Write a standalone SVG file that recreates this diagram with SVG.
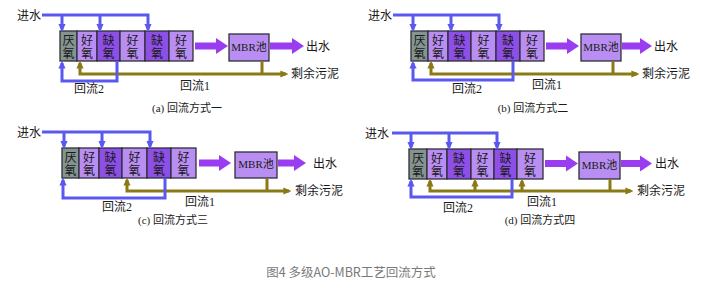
<svg xmlns="http://www.w3.org/2000/svg" width="701" height="292" viewBox="0 0 701 292">
<style>
text{font-family:"Liberation Serif","Noto Sans CJK SC",serif;fill:#1a1a1a;font-size:12px}
.c{text-anchor:middle}
.tank{stroke:#2e2e3a;stroke-width:1.3}
.g{fill:#84948f}
.l{fill:#b98ef2}
.d{fill:#8d4fe6}
.mbr{fill:#b98ef2;stroke:#2e2e3a;stroke-width:1.3}
.mt{font-size:11px;text-anchor:middle}
.bl{fill:none;stroke:#5a58ee;stroke-width:3}
.ol{fill:none;stroke:#8a7a16;stroke-width:3}
.big{fill:#9a3cf0}
.cap{font-size:11px;text-anchor:middle}
.fig{font-family:"Noto Sans CJK SC","Liberation Sans",sans-serif;font-size:12.5px;fill:#7a7a7a;text-anchor:middle}
</style>
<defs>
<marker id="mb" viewBox="0 0 10 10" refX="7" refY="5" markerWidth="8" markerHeight="8" markerUnits="userSpaceOnUse" orient="auto"><path d="M0,0.5 L10,5 L0,9.5 z" fill="#5a58ee"/></marker>
<marker id="mo" viewBox="0 0 10 10" refX="7" refY="5" markerWidth="8" markerHeight="8" markerUnits="userSpaceOnUse" orient="auto"><path d="M0,0.5 L10,5 L0,9.5 z" fill="#8a7a16"/></marker>
</defs>
<rect width="701" height="292" fill="#ffffff"/>

<!-- Panel (a) -->
<g id="panel-a">
<g id="a-nodes">
<g id="a-in"><text x="17" y="19.5">进水</text></g>
<g id="a-t1"><rect class="tank g" x="60" y="31" width="17" height="30"/><text class="c" x="68.5" y="45">厌</text><text class="c" x="68.5" y="58">氧</text></g>
<g id="a-t2"><rect class="tank l" x="77" y="31" width="20" height="30"/><text class="c" x="87" y="45">好</text><text class="c" x="87" y="58">氧</text></g>
<g id="a-t3"><rect class="tank d" x="97" y="31" width="23" height="30"/><text class="c" x="108.5" y="45">缺</text><text class="c" x="108.5" y="58">氧</text></g>
<g id="a-t4"><rect class="tank l" x="120" y="31" width="25" height="30"/><text class="c" x="132.5" y="45">好</text><text class="c" x="132.5" y="58">氧</text></g>
<g id="a-t5"><rect class="tank d" x="145" y="31" width="24" height="30"/><text class="c" x="157" y="45">缺</text><text class="c" x="157" y="58">氧</text></g>
<g id="a-t6"><rect class="tank l" x="169" y="31" width="24" height="30"/><text class="c" x="181" y="45">好</text><text class="c" x="181" y="58">氧</text></g>
<g id="a-mbr"><rect class="mbr" x="229" y="34" width="40" height="27"/><text class="mt" x="249" y="51">MBR池</text></g>
<g id="a-out"><text x="306" y="51">出水</text></g>
<g id="a-sl"><text x="291" y="78">剩余污泥</text></g>
</g>
<g id="a-connectors">
<path class="bl" d="M42,15 H148 V29.5" marker-end="url(#mb)"/>
<path class="bl" d="M62,15 V29.5" marker-end="url(#mb)"/>
<path class="bl" d="M100,15 V29.5" marker-end="url(#mb)"/>
<path class="big" d="M195,42.5 H216 V38 L228,46 L216,54 V49.5 H195 Z"/>
<path class="big" d="M270,42.5 H292 V38 L304,46 L292,54 V49.5 H270 Z"/>
<path class="ol" d="M262,61 V74"/>
<path class="ol" d="M262,74 H286" marker-end="url(#mo)"/>
<path class="ol" d="M262,74 H80 V63" marker-end="url(#mo)"/>
<path class="bl" d="M117,61 V81 H62 V63" marker-end="url(#mb)"/>
</g>
<text x="74" y="93">回流2</text>
<text x="180" y="90">回流1</text>
<text class="cap" x="187" y="112">(a) 回流方式一</text>
</g>

<!-- Panel (b) -->
<g id="panel-b" transform="translate(351,0)">
<g id="b-nodes">
<g id="b-in"><text x="17" y="19.5">进水</text></g>
<g id="b-t1"><rect class="tank g" x="60" y="31" width="17" height="30"/><text class="c" x="68.5" y="45">厌</text><text class="c" x="68.5" y="58">氧</text></g>
<g id="b-t2"><rect class="tank l" x="77" y="31" width="20" height="30"/><text class="c" x="87" y="45">好</text><text class="c" x="87" y="58">氧</text></g>
<g id="b-t3"><rect class="tank d" x="97" y="31" width="23" height="30"/><text class="c" x="108.5" y="45">缺</text><text class="c" x="108.5" y="58">氧</text></g>
<g id="b-t4"><rect class="tank l" x="120" y="31" width="25" height="30"/><text class="c" x="132.5" y="45">好</text><text class="c" x="132.5" y="58">氧</text></g>
<g id="b-t5"><rect class="tank d" x="145" y="31" width="24" height="30"/><text class="c" x="157" y="45">缺</text><text class="c" x="157" y="58">氧</text></g>
<g id="b-t6"><rect class="tank l" x="169" y="31" width="24" height="30"/><text class="c" x="181" y="45">好</text><text class="c" x="181" y="58">氧</text></g>
<g id="b-mbr"><rect class="mbr" x="230" y="34" width="40" height="27"/><text class="mt" x="250" y="51">MBR池</text></g>
<g id="b-out"><text x="303" y="51">出水</text></g>
<g id="b-sl"><text x="291" y="78">剩余污泥</text></g>
</g>
<g id="b-connectors">
<path class="bl" d="M42,15 H148 V29.5" marker-end="url(#mb)"/>
<path class="bl" d="M62,15 V29.5" marker-end="url(#mb)"/>
<path class="bl" d="M100,15 V29.5" marker-end="url(#mb)"/>
<path class="big" d="M195,42.5 H216 V38 L228,46 L216,54 V49.5 H195 Z"/>
<path class="big" d="M271,42.5 H289 V38 L301,46 L289,54 V49.5 H271 Z"/>
<path class="ol" d="M262,61 V74"/>
<path class="ol" d="M262,74 H286" marker-end="url(#mo)"/>
<path class="ol" d="M262,74 H80 V63" marker-end="url(#mo)"/>
<path class="bl" d="M162,61 V80 H62 V63" marker-end="url(#mb)"/>
</g>
<text x="101" y="93">回流2</text>
<text x="181" y="89">回流1</text>
<text class="cap" x="182" y="112">(b) 回流方式二</text>
</g>

<!-- Panel (c) -->
<g id="panel-c" transform="translate(0,117)">
<g id="c-nodes">
<g id="c-in"><text x="17" y="19.5">进水</text></g>
<g id="c-t1"><rect class="tank g" x="62" y="31" width="17" height="30"/><text class="c" x="70.5" y="45">厌</text><text class="c" x="70.5" y="58">氧</text></g>
<g id="c-t2"><rect class="tank l" x="79" y="31" width="20" height="30"/><text class="c" x="89" y="45">好</text><text class="c" x="89" y="58">氧</text></g>
<g id="c-t3"><rect class="tank d" x="99" y="31" width="23" height="30"/><text class="c" x="110.5" y="45">缺</text><text class="c" x="110.5" y="58">氧</text></g>
<g id="c-t4"><rect class="tank l" x="122" y="31" width="25" height="30"/><text class="c" x="134.5" y="45">好</text><text class="c" x="134.5" y="58">氧</text></g>
<g id="c-t5"><rect class="tank d" x="147" y="31" width="24" height="30"/><text class="c" x="159" y="45">缺</text><text class="c" x="159" y="58">氧</text></g>
<g id="c-t6"><rect class="tank l" x="171" y="31" width="25" height="30"/><text class="c" x="183.5" y="45">好</text><text class="c" x="183.5" y="58">氧</text></g>
<g id="c-mbr"><rect class="mbr" x="235" y="35" width="42" height="26"/><text class="mt" x="256" y="51">MBR池</text></g>
<g id="c-out"><text x="313" y="51">出水</text></g>
<g id="c-sl"><text x="295" y="78">剩余污泥</text></g>
</g>
<g id="c-connectors">
<path class="bl" d="M42,15 H150 V29.5" marker-end="url(#mb)"/>
<path class="bl" d="M64,15 V29.5" marker-end="url(#mb)"/>
<path class="bl" d="M102,15 V29.5" marker-end="url(#mb)"/>
<path class="big" d="M199,42.5 H219 V38 L231,46 L219,54 V49.5 H199 Z"/>
<path class="big" d="M278,42.5 H294 V38 L306,46 L294,54 V49.5 H278 Z"/>
<path class="ol" d="M267,61 V74"/>
<path class="ol" d="M267,74 H289" marker-end="url(#mo)"/>
<path class="ol" d="M267,74 H127 V63" marker-end="url(#mo)"/>
<path class="bl" d="M165,61 V81 H63 V63" marker-end="url(#mb)"/>
</g>
<text x="102" y="94">回流2</text>
<text x="185" y="89">回流1</text>
<text class="cap" x="173" y="107">(c) 回流方式三</text>
</g>

<!-- Panel (d) -->
<g id="panel-d" transform="translate(349,118)">
<g id="d-nodes">
<g id="d-in"><text x="16" y="20">进水</text></g>
<g id="d-t1"><rect class="tank g" x="60" y="31" width="18" height="30"/><text class="c" x="69" y="45">厌</text><text class="c" x="69" y="58">氧</text></g>
<g id="d-t2"><rect class="tank l" x="78" y="31" width="20" height="30"/><text class="c" x="88" y="45">好</text><text class="c" x="88" y="58">氧</text></g>
<g id="d-t3"><rect class="tank d" x="98" y="31" width="24" height="30"/><text class="c" x="110" y="45">缺</text><text class="c" x="110" y="58">氧</text></g>
<g id="d-t4"><rect class="tank l" x="122" y="31" width="23" height="30"/><text class="c" x="133.5" y="45">好</text><text class="c" x="133.5" y="58">氧</text></g>
<g id="d-t5"><rect class="tank d" x="145" y="31" width="23" height="30"/><text class="c" x="156.5" y="45">缺</text><text class="c" x="156.5" y="58">氧</text></g>
<g id="d-t6"><rect class="tank l" x="168" y="31" width="26" height="30"/><text class="c" x="181" y="45">好</text><text class="c" x="181" y="58">氧</text></g>
<g id="d-mbr"><rect class="mbr" x="230" y="34" width="41" height="27"/><text class="mt" x="250.5" y="51">MBR池</text></g>
<g id="d-out"><text x="306" y="50">出水</text></g>
<g id="d-sl"><text x="288" y="77">剩余污泥</text></g>
</g>
<g id="d-connectors">
<path class="bl" d="M43,15 H148 V29.5" marker-end="url(#mb)"/>
<path class="bl" d="M62,15 V29.5" marker-end="url(#mb)"/>
<path class="bl" d="M100,15 V29.5" marker-end="url(#mb)"/>
<path class="big" d="M196,42 H217 V37.5 L229,45.5 L217,53.5 V49 H196 Z"/>
<path class="big" d="M272,42 H291 V37.5 L303,45.5 L291,53.5 V49 H272 Z"/>
<path class="ol" d="M261,61 V73"/>
<path class="ol" d="M261,73 H282" marker-end="url(#mo)"/>
<path class="ol" d="M261,73 H81 V63" marker-end="url(#mo)"/>
<path class="ol" d="M126,73 V63" marker-end="url(#mo)"/>
<path class="ol" d="M173,73 V63" marker-end="url(#mo)"/>
<path class="bl" d="M163,61 V79 H62 V63" marker-end="url(#mb)"/>
</g>
<text x="94" y="94">回流2</text>
<text x="178" y="88">回流1</text>
<text class="cap" x="191" y="106">(d) 回流方式四</text>
</g>

<text class="fig" x="351" y="277">图4 多级AO-MBR工艺回流方式</text>
</svg>
